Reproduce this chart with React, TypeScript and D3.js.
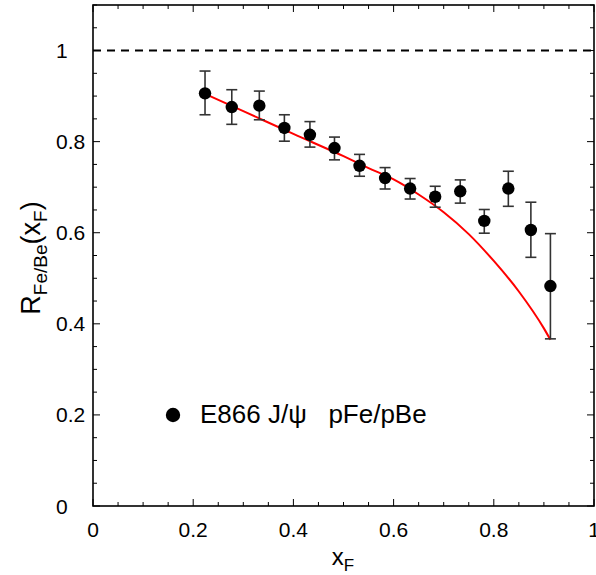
import React from "react";
import * as d3 from "d3";

const xF = [0.2236, 0.277, 0.332, 0.382, 0.433, 0.482, 0.532, 0.583, 0.633, 0.683, 0.733, 0.781, 0.829, 0.874, 0.913];
const ratio = [0.906, 0.876, 0.879, 0.830, 0.815, 0.786, 0.747, 0.720, 0.697, 0.679, 0.691, 0.626, 0.697, 0.606, 0.483];
const errHigh = [0.955, 0.914, 0.911, 0.859, 0.844, 0.810, 0.772, 0.743, 0.719, 0.702, 0.716, 0.651, 0.735, 0.667, 0.598];
const errLow = [0.859, 0.838, 0.848, 0.801, 0.788, 0.760, 0.724, 0.696, 0.674, 0.656, 0.665, 0.599, 0.658, 0.546, 0.367];

const curveX = [0.2236, 0.3, 0.4, 0.5, 0.55, 0.6, 0.65, 0.7, 0.75, 0.8, 0.85, 0.9, 0.913];
const curveY = [0.905, 0.867, 0.817, 0.768, 0.742, 0.717, 0.684, 0.645, 0.597, 0.538, 0.471, 0.39, 0.365];

const xTicks = [0, 0.2, 0.4, 0.6, 0.8, 1];
const yTicks = [0, 0.2, 0.4, 0.6, 0.8, 1];
const legendLabel = "E866 J/\u03c8   pFe/pBe";

const W = 596, H = 575;
const L = 93, R = 594, T = 5, B = 506;
const FONT = "'Liberation Sans', Arial, Helvetica, sans-serif";

export default function App() {
  const x = d3.scaleLinear().domain([0, 1]).range([L, R]);
  const y = d3.scaleLinear().domain([0, 1.1]).range([B, T]);
  const minorX = d3.range(0, 1.0001, 0.05);
  const minorY = d3.range(0, 1.1001, 0.05);
  const line = d3.line<number>().x((d, i) => x(curveX[i])).y((d, i) => y(curveY[i])).curve(d3.curveMonotoneX);
  const isMajor = (v: number) => Math.abs(v * 5 - Math.round(v * 5)) < 1e-6;

  return (
    <svg width={W} height={H} style={{ position: "absolute", left: 0, top: 0, background: "#fff" }} fontFamily={FONT}>
      <rect x={0} y={0} width={W} height={H} fill="#fff" />
      {minorX.map((v, i) => {
        const len = isMajor(v) ? 7 : 4;
        return (
          <g key={"tx" + i} stroke="#000" strokeWidth={1}>
            <line x1={x(v)} x2={x(v)} y1={B} y2={B - len} />
            <line x1={x(v)} x2={x(v)} y1={T} y2={T + len} />
          </g>
        );
      })}
      {minorY.map((v, i) => {
        const len = isMajor(v) ? 7 : 4;
        return (
          <g key={"ty" + i} stroke="#000" strokeWidth={1}>
            <line x1={L} x2={L + len} y1={y(v)} y2={y(v)} />
            <line x1={R} x2={R - len} y1={y(v)} y2={y(v)} />
          </g>
        );
      })}
      <rect x={L} y={T} width={R - L} height={B - T} fill="none" stroke="#000" strokeWidth={1.6} />
      {xTicks.map((v) => (
        <text key={"xl" + v} x={x(v)} y={537} textAnchor="middle" fontSize={21}>{String(v)}</text>
      ))}
      {yTicks.map((v) => (
        <text key={"yl" + v} x={56} y={y(v) + 7.5} textAnchor="start" fontSize={21}>{String(v)}</text>
      ))}
      <line x1={L} x2={R} y1={y(1)} y2={y(1)} stroke="#000" strokeWidth={2} strokeDasharray="8,6" />
      <path d={line(curveY) || ""} fill="none" stroke="#f00" strokeWidth={2} />
      {xF.map((v, i) => (
        <g key={"e" + i} stroke="#333" strokeWidth={1.6}>
          <line x1={x(v)} x2={x(v)} y1={y(errLow[i])} y2={y(errHigh[i])} />
          <line x1={x(v) - 5.5} x2={x(v) + 5.5} y1={y(errLow[i])} y2={y(errLow[i])} />
          <line x1={x(v) - 5.5} x2={x(v) + 5.5} y1={y(errHigh[i])} y2={y(errHigh[i])} />
        </g>
      ))}
      {xF.map((v, i) => (
        <circle key={"p" + i} cx={x(v)} cy={y(ratio[i])} r={6.2} fill="#000" />
      ))}
      <circle cx={173} cy={415} r={7.2} fill="#000" />
      <text x={200} y={423} fontSize={26} style={{ whiteSpace: "pre" }}>{legendLabel}</text>
      <text x={343} y={565} textAnchor="middle" fontSize={24}>
        x<tspan fontSize={17} dy={6}>F</tspan>
      </text>
      <text transform="translate(40,258) rotate(-90)" textAnchor="middle" fontSize={27}>
        R<tspan fontSize={19} dy={7}>Fe/Be</tspan><tspan dy={-7}>(x</tspan><tspan fontSize={19} dy={7}>F</tspan><tspan dy={-7}>)</tspan>
      </text>
    </svg>
  );
}
